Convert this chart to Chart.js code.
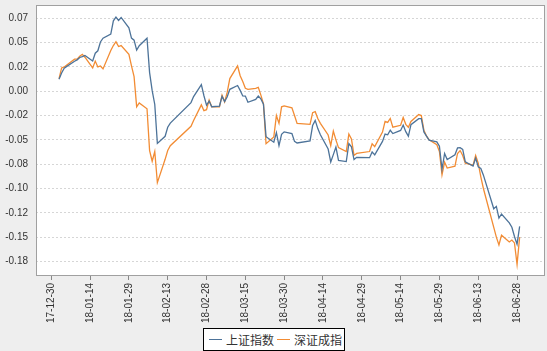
<!DOCTYPE html>
<html>
  <head>
    <meta charset="utf-8">
    <title>上证指数 / 深证成指</title>
    <style>
      body { margin: 0; background: #eeeeee; }
      #wrap { position: relative; width: 547px; height: 351px; }
      #legend {
        position: absolute; left: 203px; top: 328px; width: 140px; height: 21px;
        border: 1px solid #000; background: #fff;
        font-family: "Noto Sans CJK SC", sans-serif; font-size: 12px; color: #333;
        display: flex; align-items: center; justify-content: center; white-space: nowrap;
      }
      #legend span.line { display: inline-block; width: 13px; height: 0; border-top: 1.5px solid; margin: 0 4px 0 3px; }
    </style>
  </head>
  <body>
    <div id="wrap">
      <canvas id="myChart" width="547" height="351"></canvas>
      <div id="legend"></div>
    </div>

    <script src="https://cdn.jsdelivr.net/npm/chart.js@4/dist/chart.umd.min.js"></script>
    <script>
      // trading days, 2018 H1
      var dates = [
        '2018-01-02','2018-01-03','2018-01-04','2018-01-05','2018-01-08','2018-01-09','2018-01-10','2018-01-11','2018-01-12',
        '2018-01-15','2018-01-16','2018-01-17','2018-01-18','2018-01-19','2018-01-22','2018-01-23','2018-01-24','2018-01-25',
        '2018-01-26','2018-01-29','2018-01-30','2018-01-31',
        '2018-02-01','2018-02-02','2018-02-05','2018-02-06','2018-02-07','2018-02-08','2018-02-09','2018-02-12','2018-02-13',
        '2018-02-14','2018-02-22','2018-02-23','2018-02-26','2018-02-27','2018-02-28',
        '2018-03-01','2018-03-02','2018-03-05','2018-03-06','2018-03-07','2018-03-08','2018-03-09','2018-03-12','2018-03-13',
        '2018-03-14','2018-03-15','2018-03-16','2018-03-19','2018-03-20','2018-03-21','2018-03-22','2018-03-23','2018-03-26',
        '2018-03-27','2018-03-28','2018-03-29','2018-03-30',
        '2018-04-02','2018-04-03','2018-04-04','2018-04-09','2018-04-10','2018-04-11','2018-04-12','2018-04-13','2018-04-16',
        '2018-04-17','2018-04-18','2018-04-19','2018-04-20','2018-04-23','2018-04-24','2018-04-25','2018-04-26','2018-04-27',
        '2018-05-02','2018-05-03','2018-05-04','2018-05-07','2018-05-08','2018-05-09','2018-05-10','2018-05-11','2018-05-14',
        '2018-05-15','2018-05-16','2018-05-17','2018-05-18','2018-05-21','2018-05-22','2018-05-23','2018-05-24','2018-05-25',
        '2018-05-28','2018-05-29','2018-05-30','2018-05-31',
        '2018-06-01','2018-06-04','2018-06-05','2018-06-06','2018-06-07','2018-06-08','2018-06-11','2018-06-12','2018-06-13',
        '2018-06-14','2018-06-15','2018-06-19','2018-06-20','2018-06-21','2018-06-22','2018-06-25','2018-06-26','2018-06-27',
        '2018-06-28','2018-06-29'
      ];

      var shIndex = [
        0.0124,0.0187,0.0237,0.0256,0.0309,0.0323,0.0347,0.0357,0.0368,
        0.0312,0.0391,0.0416,0.0507,0.0546,0.0587,0.0724,0.0763,0.0729,
        0.0759,0.0653,0.0547,0.0525,
        0.0423,0.0468,0.0545,0.0192,0.0006,-0.0136,-0.0536,-0.0463,-0.0370,
        -0.0327,-0.0117,-0.0055,0.0068,-0.0046,-0.0144,
        -0.0101,-0.0159,-0.0152,-0.0053,-0.0107,-0.0057,0.0020,0.0059,0.0009,
        -0.0048,-0.0049,-0.0113,-0.0084,-0.0050,-0.0079,-0.0132,-0.0467,-0.0524,
        -0.0425,-0.0559,-0.0443,-0.0418,
        -0.0435,-0.0516,-0.0532,-0.0511,-0.0353,-0.0300,-0.0384,-0.0448,-0.0594,
        -0.0727,-0.0652,-0.0574,-0.0712,-0.0723,-0.0539,-0.0572,-0.0702,-0.0680,
        -0.0683,-0.0624,-0.0654,-0.0516,-0.0440,-0.0448,-0.0401,-0.0435,-0.0403,
        -0.0348,-0.0416,-0.0462,-0.0344,-0.0282,-0.0281,-0.0418,-0.0461,-0.0502,
        -0.0520,-0.0565,-0.0803,-0.0640,
        -0.0702,-0.0653,-0.0583,-0.0581,-0.0598,-0.0726,-0.0769,-0.0688,-0.0778,
        -0.0795,-0.0863,-0.1208,-0.1184,-0.1304,-0.1262,-0.1354,-0.1399,-0.1494,
        -0.1573,-0.1390
      ];

      var szIndex = [
        0.013,0.024,0.025,0.027,0.033,0.033,0.036,0.038,0.035,
        0.024,0.031,0.025,0.026,0.023,0.042,0.047,0.051,0.046,
        0.047,0.038,0.026,0.015,
        -0.016,-0.012,-0.018,-0.061,-0.072,-0.062,-0.094,-0.070,-0.061,
        -0.056,-0.036,-0.030,-0.014,-0.020,-0.019,
        -0.009,-0.016,-0.016,-0.004,-0.011,-0.001,0.013,0.026,0.016,
        0.010,0.003,0.002,0.003,0.004,-0.004,-0.013,-0.054,-0.047,
        -0.025,-0.033,-0.016,-0.015,
        -0.017,-0.025,-0.033,-0.034,-0.022,-0.021,-0.028,-0.033,-0.045,
        -0.056,-0.041,-0.050,-0.058,-0.062,-0.044,-0.049,-0.066,-0.064,
        -0.062,-0.054,-0.057,-0.042,-0.031,-0.032,-0.028,-0.037,-0.035,
        -0.027,-0.034,-0.037,-0.031,-0.024,-0.025,-0.040,-0.046,-0.050,
        -0.055,-0.062,-0.086,-0.073,
        -0.079,-0.077,-0.064,-0.061,-0.066,-0.074,-0.076,-0.066,-0.074,
        -0.088,-0.100,-0.140,-0.150,-0.158,-0.148,-0.155,-0.153,-0.156,
        -0.178,-0.150
      ];

      var seriesNames = ['上证指数', '深证成指'];
      var seriesColors = ['#4d7399', '#f28c34'];

      var xTickLabels = ['17-12-30','18-01-14','18-01-29','18-02-13','18-02-28','18-03-15','18-03-30',
                         '18-04-14','18-04-29','18-05-14','18-05-29','18-06-13','18-06-28'];
      var yTickValues = [0.075,0.05,0.025,0,-0.025,-0.05,-0.075,-0.1,-0.125,-0.15,-0.175];
      var yTickLabels = ['0.07','0.05','0.02','0.00','-0.02','-0.05','-0.08','-0.10','-0.12','-0.15','-0.18'];

      var DAY = 86400000;
      var origin = Date.UTC(2017, 11, 30);
      function dayNum(s){
        var p = s.split('-');
        return Math.round((Date.UTC(+p[0], +p[1]-1, +p[2]) - origin) / DAY);
      }
      function toPoints(vals){
        var out = [];
        for(var i=0;i<dates.length;i++){
          out.push({x: dayNum(dates[i]), y: vals[i]});
        }
        return out;
      }
      var xTickValues = [];
      for(var k=0;k<xTickLabels.length;k++){
        xTickValues.push(dayNum('20' + xTickLabels[k]));
      }

      var tickFont = {family: 'Liberation Sans, Arial, sans-serif', size: 10};

      var framePlugin = {
        id: 'frame',
        beforeDraw: function(chart){
          var a = chart.chartArea, c = chart.ctx;
          c.save();
          c.fillStyle = '#ffffff';
          c.fillRect(a.left, a.top, a.right - a.left, a.bottom - a.top);
          c.restore();
        },
        afterDraw: function(chart){
          var a = chart.chartArea, c = chart.ctx;
          c.save();
          c.strokeStyle = '#a0a0a0';
          c.lineWidth = 1;
          c.strokeRect(a.left + 0.5, a.top + 0.5, a.right - a.left - 1, a.bottom - a.top - 1);
          c.restore();
        }
      };

      var ctx = document.getElementById('myChart');
      var myChart = new Chart(ctx, {
        type: 'line',
        data: {
          datasets: [
            {label: seriesNames[0], data: toPoints(shIndex), borderColor: seriesColors[0], borderWidth: 1.3, pointRadius: 0, tension: 0, fill: false},
            {label: seriesNames[1], data: toPoints(szIndex), borderColor: seriesColors[1], borderWidth: 1.3, pointRadius: 0, tension: 0, fill: false}
          ]
        },
        options: {
          responsive: false,
          animation: false,
          layout: {padding: {top: 5, right: 2, left: 0, bottom: 0}},
          plugins: {legend: {display: false}, tooltip: {enabled: false}},
          scales: {
            x: {
              type: 'linear',
              min: -5.9,
              max: 190.8,
              afterFit: function(s){ s.height = 75; s.paddingLeft = 0; s.paddingRight = 0; },
              afterBuildTicks: function(s){ s.ticks = xTickValues.map(function(v){ return {value: v}; }); },
              ticks: {
                autoSkip: false, minRotation: 90, maxRotation: 90, padding: 3,
                color: '#333', font: tickFont,
                callback: function(v){ return xTickLabels[xTickValues.indexOf(v)]; }
              },
              grid: {display: true, drawOnChartArea: false, drawTicks: true, tickLength: 4, color: '#888'},
              border: {display: false}
            },
            y: {
              min: -0.19,
              max: 0.0887,
              afterFit: function(s){ s.width = 36; s.paddingTop = 0; s.paddingBottom = 0; },
              afterBuildTicks: function(s){ s.ticks = yTickValues.map(function(v){ return {value: v}; }); },
              ticks: {
                padding: 8, color: '#333', font: tickFont,
                callback: function(v){ return yTickLabels[yTickValues.indexOf(v)]; }
              },
              grid: {color: '#d6d6d6', drawTicks: false, borderDash: [2, 2]},
              border: {display: false, dash: [2, 2]}
            }
          }
        },
        plugins: [framePlugin]
      });

      var legend = document.getElementById('legend');
      var html = '';
      for(var j=0;j<seriesNames.length;j++){
        html += '<span class="line" style="border-color:' + seriesColors[j] + '"></span><span>' + seriesNames[j] + '</span>';
      }
      legend.innerHTML = html;
    </script>
  </body>
</html>
